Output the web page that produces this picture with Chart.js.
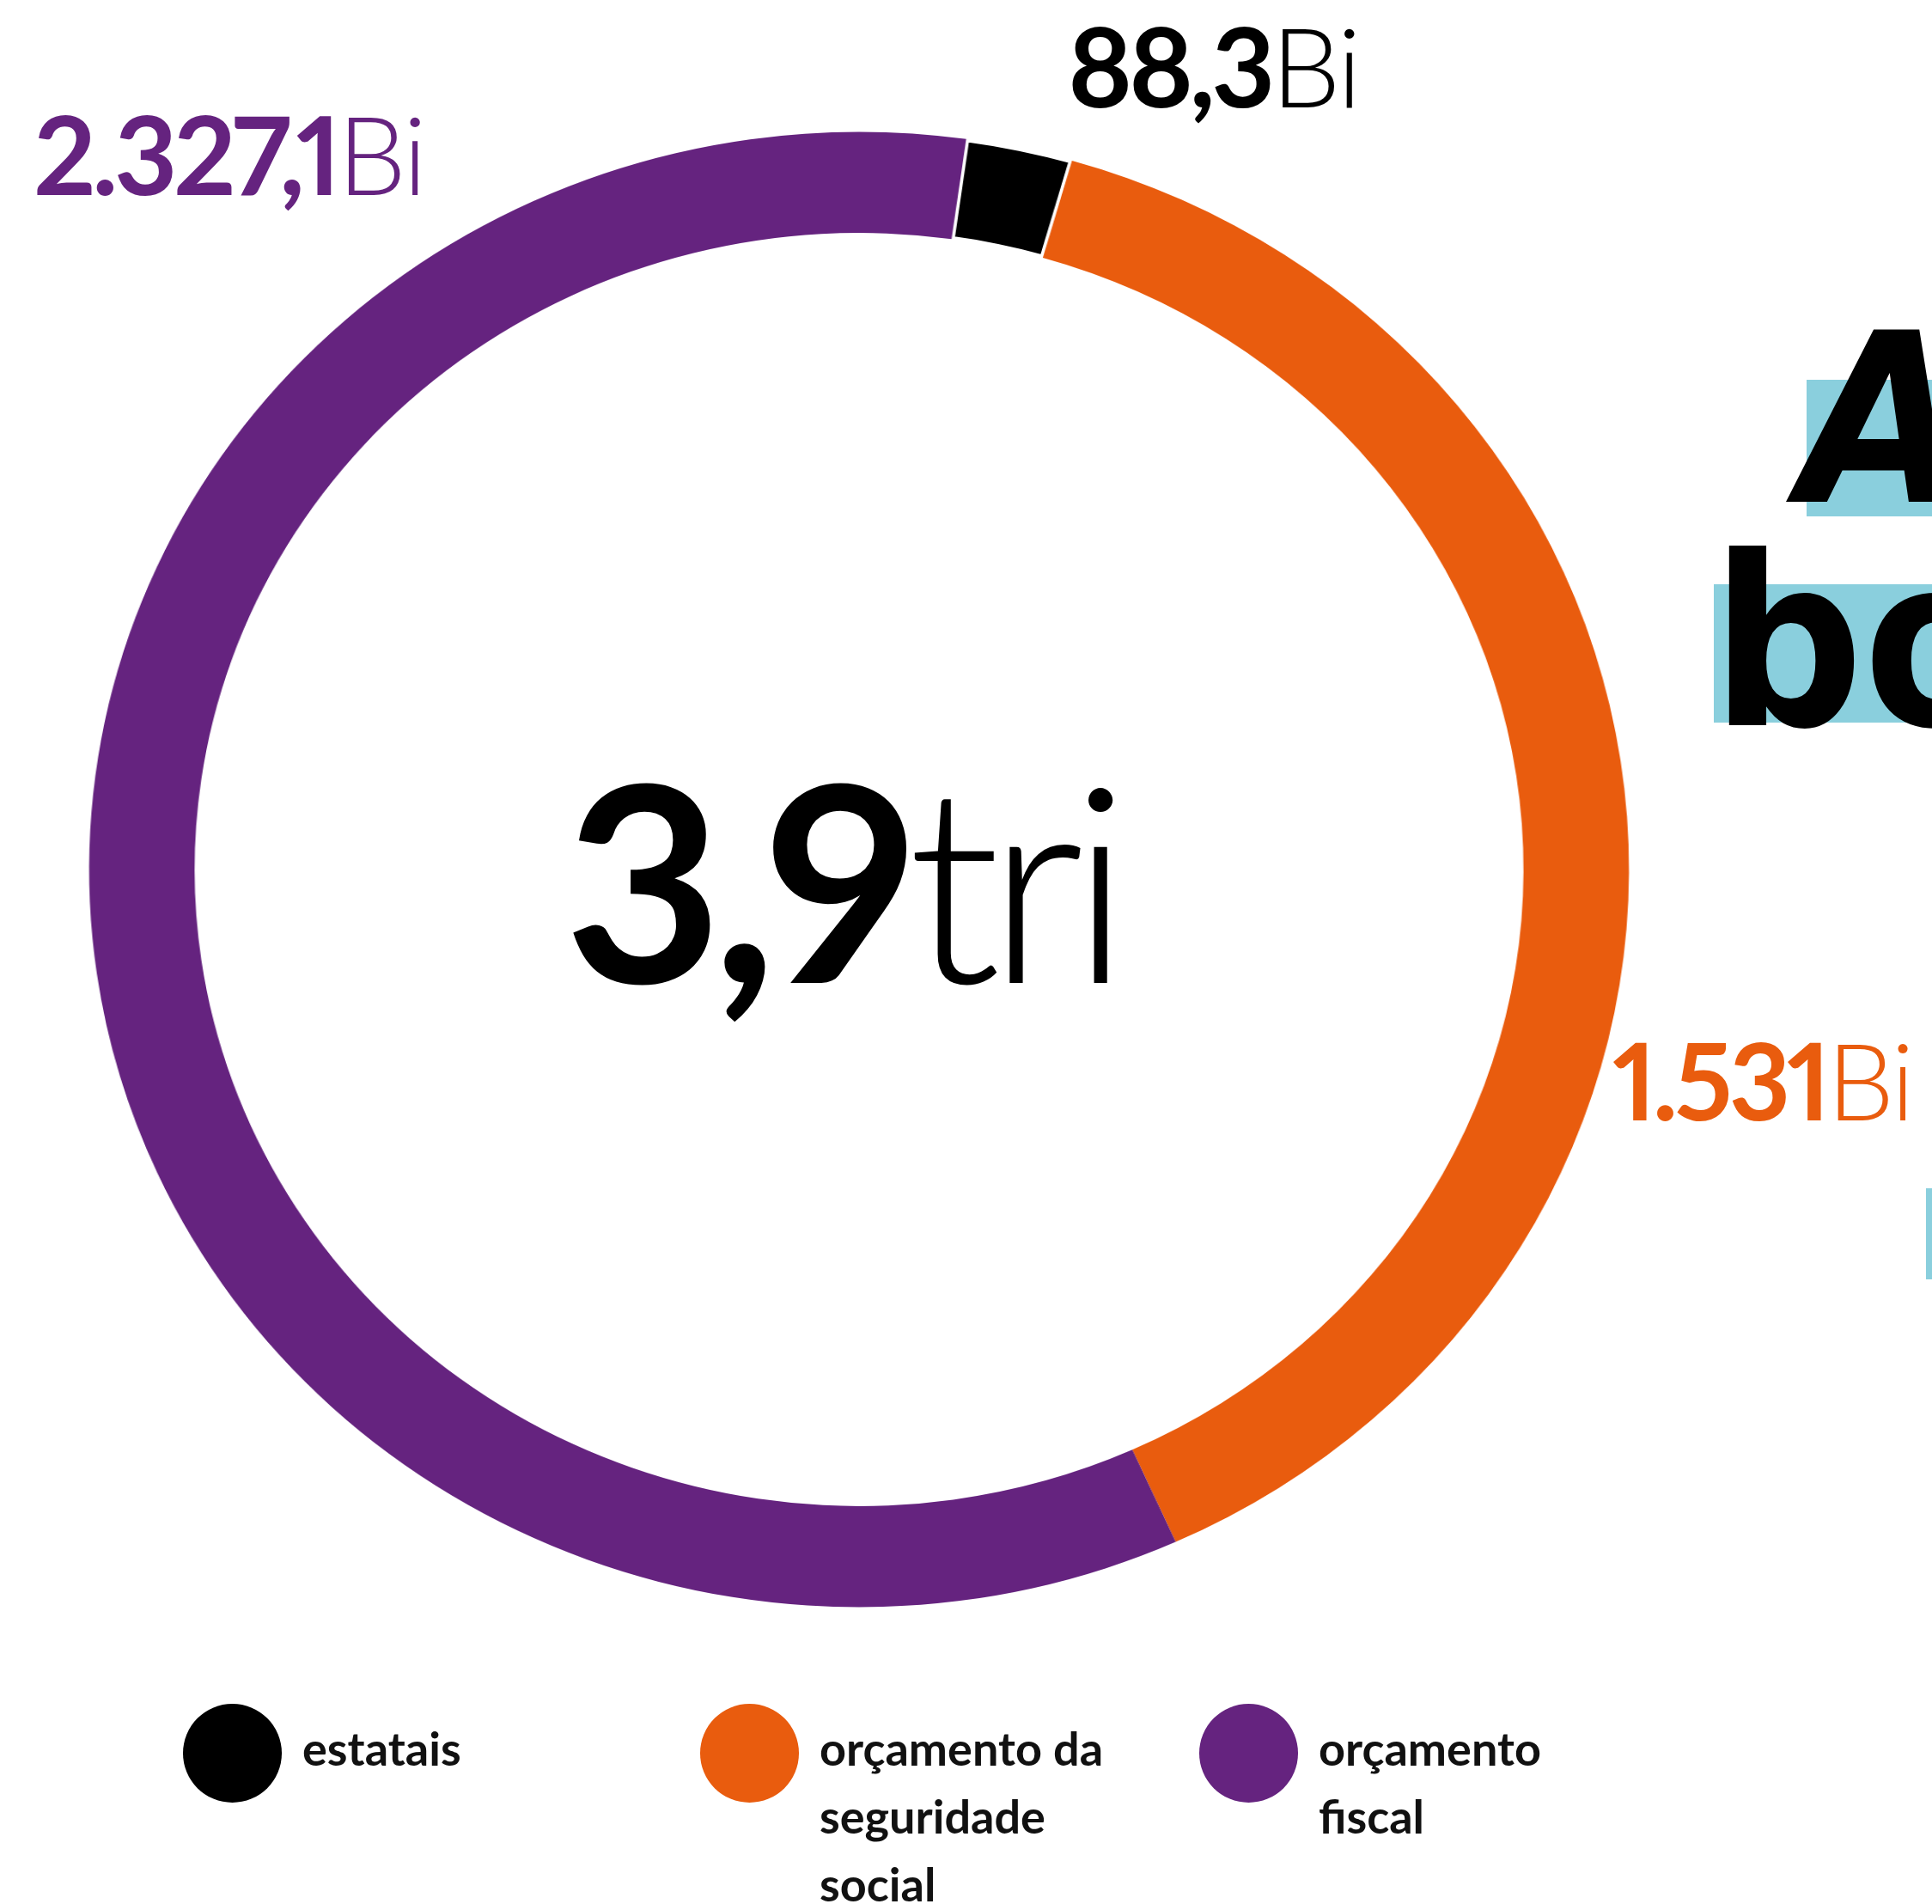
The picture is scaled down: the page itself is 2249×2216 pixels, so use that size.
<!DOCTYPE html>
<html>
<head>
<meta charset="utf-8">
<script src="https://cdn.jsdelivr.net/npm/chart.js@4/dist/chart.umd.min.js"></script>
<style>
  html, body { margin:0; padding:0; background:#fff; }
  body { width:2249px; height:2216px; position:relative; overflow:hidden; font-family:Lato, "Noto Sans", sans-serif; }
  /* the drawn ring is a bit wider than tall */
  #pie { position:absolute; left:0; top:0; transform:scaleX(1.044); transform-origin:1000px 1012px; }
  .lbl { position:absolute; white-space:nowrap; line-height:1.2; font-variant-numeric:proportional-nums; }
  .lbl b { font-weight:700; letter-spacing:-0.035em; }
  .lbl span { font-weight:300; letter-spacing:-0.02em; }
  .dot { position:absolute; width:115px; height:115px; border-radius:50%; }
  .legtxt { position:absolute; width:360px; font-size:54px; font-weight:700; line-height:79px; color:#111; }
  .hl { position:absolute; background:#8acfdd; }
  .hand { position:absolute; font-family:"DejaVu Sans Condensed", "DejaVu Sans", sans-serif; font-weight:bold; color:#000; line-height:1; }
</style>
</head>
<body>
<canvas id="pie" width="2249" height="2216"></canvas>
<script>
// values in billions of R$
const categories = ['estatais', 'orçamento da seguridade social', 'orçamento fiscal'];
const values = [88.3, 1531, 2327.1];
const colors = ['#000000', '#e95c0e', '#65237f'];
const totalUnit = 'tri';
const valueUnit = 'Bi';

// where each value label sits (left, baseline, font size)
const labelPos = [[1243, 125, 128], [1877, 1304, 124], [39, 227, 127]];
const legendX = [270, 872, 1453];

const fmt = v => v.toLocaleString('pt-BR', {maximumFractionDigits:1});

document.addEventListener('DOMContentLoaded', () => {
  new Chart(document.getElementById('pie'), {
    type:'doughnut',
    data:{labels:categories, datasets:[{data:values, backgroundColor:colors, borderColor:'#fff', borderWidth:[7,0,0]}]},
    options:{
      responsive:false, animation:false, rotation:8, cutout:'86.3%',
      layout:{padding:{left:138, top:150, right:387, bottom:342}},
      plugins:{legend:{display:false}, tooltip:{enabled:false}}
    }
  });

  const body = document.body;
  const add = (cls, html, css) => {
    const d = document.createElement('div');
    d.className = cls; d.innerHTML = html; Object.assign(d.style, css); body.appendChild(d); return d;
  };

  // value labels
  values.forEach((v, i) => {
    const [x, base, fs] = labelPos[i];
    add('lbl', '<b>' + fmt(v) + '</b><span>' + valueUnit + '</span>',
      {left:x+'px', top:(base - 0.987*fs)+'px', fontSize:fs+'px', color:colors[i]});
  });

  // total in the middle
  const total = values.reduce((a, b) => a + b, 0) / 1000;
  const mid = add('lbl', '<b>' + fmt(Math.round(total*10)/10) + '</b><span>' + totalUnit + '</span>',
    {left:'657px', top:(1145 - 0.987*318)+'px', fontSize:'318px', color:'#000'});
  mid.querySelector('span').style.letterSpacing = '-0.05em';

  // legend
  categories.forEach((c, i) => {
    add('dot', '', {left:(legendX[i]-57)+'px', top:'1983px', background:colors[i]});
    add('legtxt', c, {left:(legendX[i]+82)+'px', top:'1995px'});
  });

  // cut-off title of the neighbouring panel
  add('hl', '', {left:'2103px', top:'442px', width:'200px', height:'159px'});
  add('hl', '', {left:'1995px', top:'680px', width:'300px', height:'161px'});
  add('hl', '', {left:'2242px', top:'1383px', width:'60px', height:'106px'});
  add('hand', 'A', {left:'2095px', top:'352px', fontSize:'275px', fontStyle:'italic'});
  add('hand', 'bo', {left:'1992px', top:'612px', fontSize:'275px'});
});
</script>
</body>
</html>
